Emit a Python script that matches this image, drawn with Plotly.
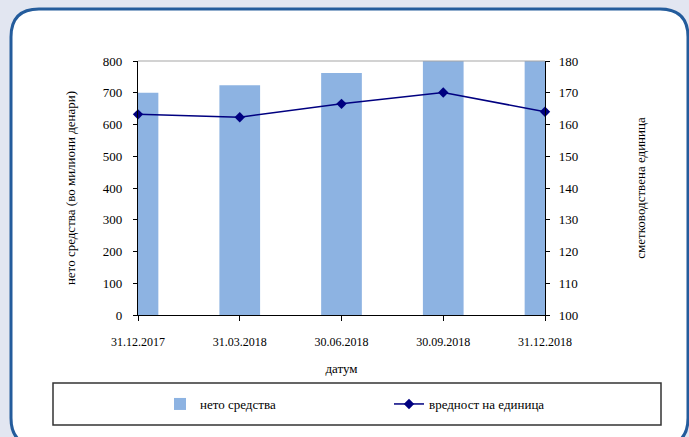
import plotly.graph_objects as go

# ---- data ----
dates = ["31.12.2017", "31.03.2018", "30.06.2018", "30.09.2018", "31.12.2018"]
net_assets = [700, 724, 762, 810, 820]          # нето средства (во милиони денари)
unit_value = [163.2, 162.3, 166.5, 170.1, 164.0]  # вредност на единица

W, H = 689, 437
ML, MR, MT, MB = 138, 144, 61, 122
PW, PH = W - ML - MR, H - MT - MB

def px(x):
    return (x - ML) / PW

def py(y):
    return (H - MB - y) / PH

FONT = "Liberation Serif"
BAR_COLOR = "#8db3e2"
LINE_COLOR = "#000080"
BG = "#e2e6f1"

fig = go.Figure()
fig.add_trace(go.Bar(
    x=dates, y=net_assets, name="нето средства",
    marker=dict(color=BAR_COLOR, line=dict(width=0)),
    width=0.4, yaxis="y", legendwidth=184,
))
fig.add_trace(go.Scatter(
    x=dates, y=unit_value, name="вредност на единица",
    mode="lines+markers", yaxis="y2",
    line=dict(color=LINE_COLOR, width=1.5),
    marker=dict(symbol="diamond", size=8, color=LINE_COLOR),
    cliponaxis=False, legendwidth=130,
))

# rounded white panel
r_x, r_y = 28, 28
x0, x1, y0, y1 = 11, 688, 9, 446
path = (
    f"M {px(x0 + r_x)},{py(y0)} L {px(x1 - r_x)},{py(y0)} "
    f"Q {px(x1)},{py(y0)} {px(x1)},{py(y0 + r_y)} "
    f"L {px(x1)},{py(y1 - r_y)} Q {px(x1)},{py(y1)} {px(x1 - r_x)},{py(y1)} "
    f"L {px(x0 + r_x)},{py(y1)} Q {px(x0)},{py(y1)} {px(x0)},{py(y1 - r_y)} "
    f"L {px(x0)},{py(y0 + r_y)} Q {px(x0)},{py(y0)} {px(x0 + r_x)},{py(y0)} Z"
)
shapes = [
    dict(type="path", xref="paper", yref="paper", path=path,
         fillcolor="white", line=dict(color="#245c9c", width=3), layer="below"),
    # plot-area top border
    dict(type="line", xref="paper", yref="paper", x0=0, x1=1, y0=1, y1=1,
         line=dict(color="#a6a6a6", width=1.2)),
    # legend box
    dict(type="rect", xref="paper", yref="paper",
         x0=px(53), x1=px(661), y0=py(383), y1=py(425),
         line=dict(color="#333333", width=1.5), fillcolor="rgba(0,0,0,0)"),
]

fig.update_layout(
    width=W, height=H,
    margin=dict(l=ML, r=MR, t=MT, b=MB),
    paper_bgcolor=BG,
    plot_bgcolor="rgba(0,0,0,0)",
    font=dict(family=FONT, size=13, color="black"),
    shapes=shapes,
    showlegend=True,
    legend=dict(
        orientation="h", x=px(160), xanchor="left",
        y=py(404), yanchor="middle",
        xref="paper", yref="paper",
        bgcolor="rgba(0,0,0,0)", borderwidth=0,
        font=dict(family=FONT, size=13),
        traceorder="normal",
    ),
    xaxis=dict(
        type="category", range=[0, len(dates) - 1],
        showline=True, linecolor="black", linewidth=1.3,
        ticks="outside", ticklen=5, tickcolor="black",
        showgrid=False, zeroline=False,
        tickfont=dict(family=FONT, size=12),
        ticklabelstandoff=10,
        title=dict(text="датум", font=dict(family=FONT, size=13), standoff=16),
    ),
    yaxis=dict(
        range=[0, 800], dtick=100,
        showline=True, linecolor="black", linewidth=1.3,
        ticks="outside", ticklen=4, tickcolor="black",
        showgrid=False, zeroline=False,
        tickfont=dict(family=FONT, size=13),
        ticklabelstandoff=8,
        title=dict(text="нето средства (во милиони денари)",
                   font=dict(family=FONT, size=13), standoff=24),
    ),
    yaxis2=dict(
        range=[100, 180], dtick=10, overlaying="y", side="right",
        showline=True, linecolor="black", linewidth=1.3,
        ticks="outside", ticklen=4, tickcolor="black",
        showgrid=False, zeroline=False,
        tickfont=dict(family=FONT, size=13),
        ticklabelstandoff=6,
        title=dict(text="сметководствена единица",
                   font=dict(family=FONT, size=13), standoff=58),
    ),
    bargap=0.6,
)

fig.write_html(
    "out.html",
    config={"displayModeBar": False},
    post_script=(
        "document.body.style.margin='0';"
        "document.body.style.padding='0';"
        "document.body.style.background='" + BG + "';"
        "document.body.style.overflow='hidden';"
    ),
)
